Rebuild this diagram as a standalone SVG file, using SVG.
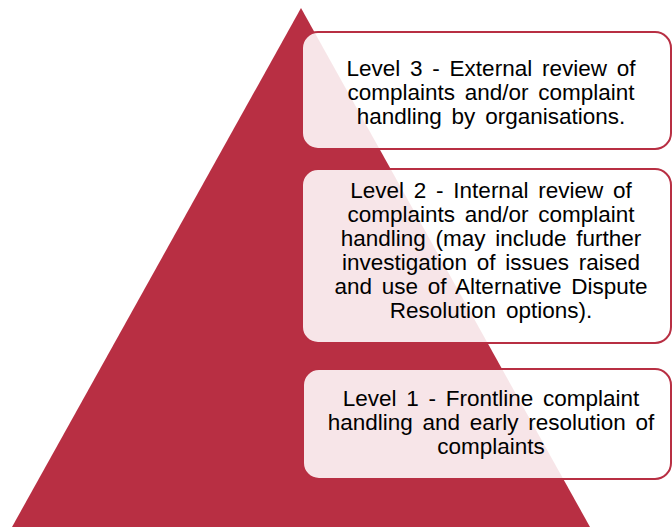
<svg xmlns="http://www.w3.org/2000/svg" width="672" height="527" viewBox="0 0 672 527">
<style>
.box{fill:#ffffff;fill-opacity:0.88;stroke:#b82f43;stroke-width:2}
.t{font-family:"Liberation Sans",Arial,sans-serif;font-size:22.5px;fill:#000;text-anchor:middle;word-spacing:3.5px}
</style>
<rect width="672" height="527" fill="#ffffff"/>
<g id="pyramid"><polygon points="301,8 12,527 590,527" fill="#b82f43"/></g>
<g id="connectors"></g>
<g id="level3">
<rect class="box" x="302" y="32" width="369" height="117" rx="16"/>
<text class="t" x="491" y="76">Level 3 - External review of</text>
<text class="t" x="491" y="100">complaints and/or complaint</text>
<text class="t" x="491" y="124">handling by organisations.</text>
</g>
<g id="level2">
<rect class="box" x="302" y="169" width="369" height="174" rx="16"/>
<text class="t" x="491" y="198">Level 2 - Internal review of</text>
<text class="t" x="491" y="222">complaints and/or complaint</text>
<text class="t" x="491" y="246">handling (may include further</text>
<text class="t" x="491" y="270">investigation of issues raised</text>
<text class="t" x="491" y="294">and use of Alternative Dispute</text>
<text class="t" x="491" y="318">Resolution options).</text>
</g>
<g id="level1">
<rect class="box" x="303" y="369" width="368" height="110" rx="16"/>
<text class="t" x="491" y="406">Level 1 - Frontline complaint</text>
<text class="t" x="491" y="430">handling and early resolution of</text>
<text class="t" x="491" y="454">complaints</text>
</g>
</svg>
